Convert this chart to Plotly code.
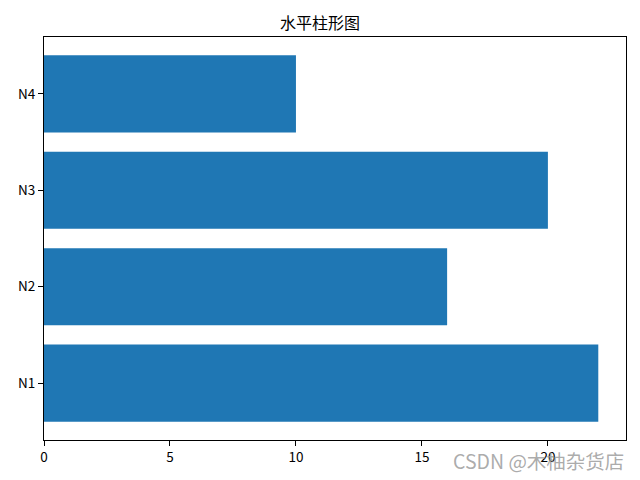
import plotly.graph_objects as go

categories = ["N1", "N2", "N3", "N4"]
values = [22, 16, 20, 10]
x_ticks = [0, 5, 10, 15, 20]
title = "水平柱形图"
watermark = "CSDN @木柚杂货店"

font = "Noto Sans CJK SC, Microsoft YaHei, sans-serif"

fig = go.Figure(go.Bar(
    y=list(range(len(categories))), x=values, orientation="h",
    width=0.8, marker=dict(color="#1f77b4", line=dict(width=0)),
))

fig.update_layout(
    width=640, height=480,
    margin=dict(l=44, r=14, t=37, b=40),
    paper_bgcolor="white", plot_bgcolor="white",
    font=dict(family=font, size=13.5, color="black"),
    title=dict(text=title, x=0.5, xanchor="center", y=1 - 23/480, yanchor="middle",
               font=dict(size=16)),
    showlegend=False,
)
fig.update_xaxes(range=[0, 23.1], tickvals=x_ticks, ticks="outside", ticklen=5,
                 tickwidth=1, tickcolor="black", showgrid=False, zeroline=False,
                 showline=True, linecolor="black", linewidth=1, mirror=True)
fig.update_yaxes(range=[-0.59, 3.59], tickvals=list(range(len(categories))),
                 ticktext=categories, ticks="outside", ticklen=5, tickwidth=1,
                 tickcolor="black", showgrid=False, zeroline=False,
                 showline=True, linecolor="black", linewidth=1, mirror=True)

fig.add_annotation(text=watermark, xref="paper", yref="paper", x=1.0, y=-0.05,
                   xanchor="right", yanchor="middle", showarrow=False,
                   font=dict(size=19.5, color="rgba(150,150,150,0.8)", family=font))

fig.write_html("out.html", config={"displayModeBar": False},
               post_script="document.body.style.margin='0px';")
